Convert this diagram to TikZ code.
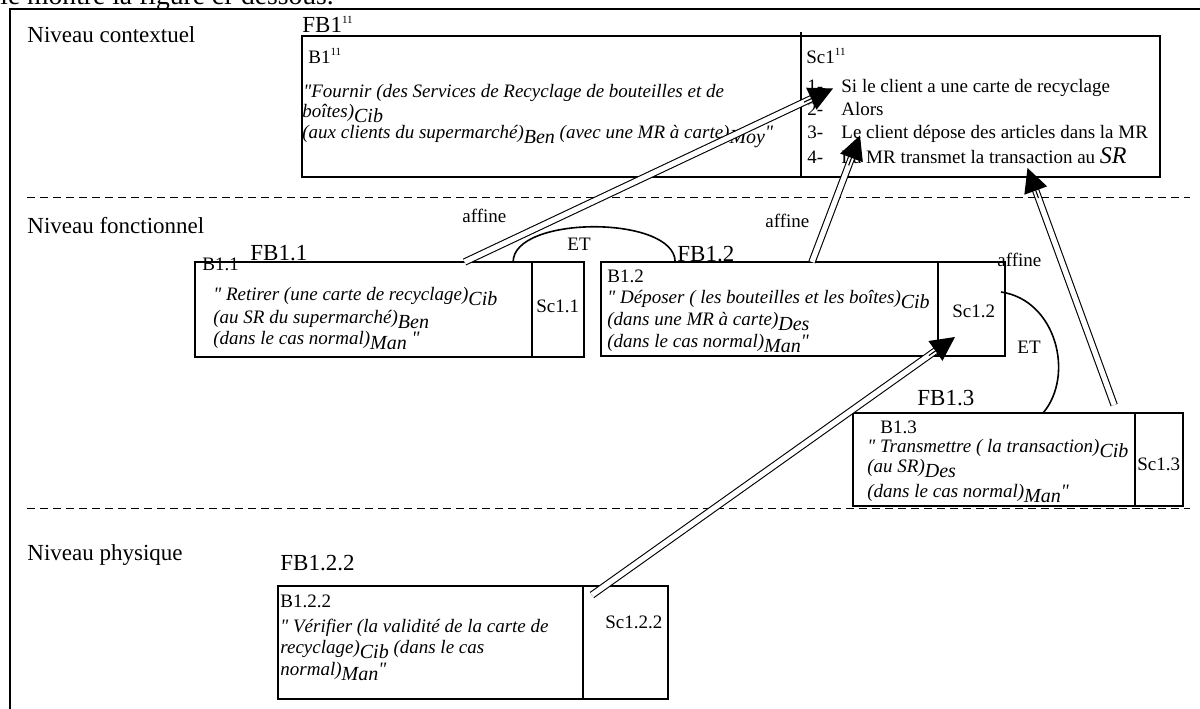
\documentclass[tikz,border=0pt]{standalone}
\usepackage{fontspec}
\setmainfont{Liberation Serif}[Ligatures=TeXOff]
\usetikzlibrary{calc,positioning,arrows.meta}

\newcommand{\ix}[1]{\raisebox{-2.6pt}{\fontsize{10}{12}\selectfont\itshape #1}}
\newcommand{\onze}[1][4pt]{\raisebox{#1}{\fontsize{5.5}{6}\selectfont 11}}
\newcommand{\dq}{\symbol{34}}

\begin{document}
\begin{tikzpicture}[x=.5pt, y=-.5pt]
	\tikzstyle{level}=[anchor=base west, inner sep=0pt, font=\fontsize{11.5}{13}\selectfont]
	\tikzstyle{txt}=[anchor=base west, inner sep=0pt, font=\fontsize{9.5}{11}\selectfont]
	\tikzstyle{desc}=[txt, font=\fontsize{9.5}{11}\selectfont\itshape]
	\tikzstyle{part}=[draw, line width=1pt, outer sep=0pt, inner sep=0pt, anchor=north west]
	\tikzstyle{sep}=[dash pattern=on 4pt off 2.5pt, line width=.5pt]
	\tikzstyle{affine}=[double, double distance=2.6pt, line width=.55pt, shorten >=10pt]
	\tikzstyle{head}=[-{Triangle[length=12pt, width=12pt]}, line width=.55pt]
	\tikzstyle{et}=[line width=.8pt]

	\useasboundingbox (0,0) rectangle (1200,708);

	\node[anchor=base west, inner sep=0pt, font=\fontsize{13.8}{15}\selectfont] (intro) at (0,4) {le montre la figure ci-dessous.};
	\draw[line width=1pt] (10,716) -- (10,9) -- (1210,9);

	% niveaux
	\node[level] (ctx) at (27,42) {Niveau contextuel};
	\node[level] (fct) at (27,233) {Niveau fonctionnel};
	\node[level] (phy) at (27,560) {Niveau physique};
	\draw[sep] (27,197) -- (1190,197);
	\draw[sep] (27,508) -- (1190,508);

	% FB1^11
	\node[part, minimum width=249.5pt, minimum height=70.5pt] (b11) at (302,36) {};
	\node[part, minimum width=179.5pt, minimum height=70.5pt] (sc11) at (b11.north east) {};
	\draw[line width=1pt] (sc11.north west) -- +(0,-4);
	\node[level] (fb11) at (302,32) {FB1\onze[4.4pt]};
	\node[txt] (lb11) at (308,63) {B1\onze[3.7pt]};
	\node[desc] (d11a) at (303,97) {\dq Fournir (des Services de Recyclage de bouteilles et de};
	\node[desc] (d11b) at (302,117) {boîtes)\ix{Cib}};
	\node[desc] (d11c) at (302,138) {(aux clients du supermarché)\ix{Ben} (avec une MR à carte)\ix{Moy}\dq};
	\node[txt] (lsc11) at (806,63) {Sc1\onze[3.7pt]};
	\node[txt] (n1) at (807,92) {1-};
	\node[txt] (i1) at (841,92) {Si le client a une carte de recyclage};
	\node[txt] (n2) at (807,115) {2-};
	\node[txt] (i2) at (841,115) {Alors};
	\node[txt] (n3) at (807,138) {3-};
	\node[txt] (i3) at (841,138) {Le client dépose des articles dans la MR};
	\node[txt] (n4) at (807,163) {4-};
	\node[txt] (i4) at (841,163) {La MR transmet la transaction au {\fontsize{12}{12}\selectfont\itshape SR}};

	% FB1.1
	\node[part, minimum width=168.5pt, minimum height=47.5pt] (b1-1) at (195,262) {};
	\node[part, minimum width=26pt, minimum height=47.5pt] (sc1-1) at (b1-1.north east) {};
	\node[level] (fb1-1) at (250,260) {FB1.1};
	\node[txt] (lb1-1) at (202,270) {B1.1};
	\node[desc] (d1-1a) at (213,300) {\dq\ Retirer (une carte de recyclage)\ix{Cib}};
	\node[desc] (d1-1b) at (213,323) {(au SR du supermarché)\ix{Ben}};
	\node[desc] (d1-1c) at (213,344) {(dans le cas normal)\ix{Man} \dq};
	\node[txt] (lsc1-1) at (536,312) {Sc1.1};

	% FB1.2
	\node[part, minimum width=168.5pt, minimum height=47pt] (b1-2) at (601,262) {};
	\node[part, minimum width=33.5pt, minimum height=47pt] (sc1-2) at (b1-2.north east) {};
	\node[level] (fb1-2) at (677,261) {FB1.2};
	\node[txt] (lb1-2) at (607,282) {B1.2};
	\node[desc] (d1-2a) at (607,303) {\dq\ Déposer ( les bouteilles et les boîtes)\ix{Cib}};
	\node[desc] (d1-2b) at (607,325) {(dans une MR à carte)\ix{Des}};
	\node[desc] (d1-2c) at (607,347) {(dans le cas normal)\ix{Man}\dq};
	\node[txt] (lsc1-2) at (952,317) {Sc1.2};

	% FB1.3
	\node[part, minimum width=141pt, minimum height=46.5pt] (b1-3) at (853,413) {};
	\node[part, minimum width=24pt, minimum height=46.5pt] (sc1-3) at (b1-3.north east) {};
	\node[level] (fb1-3) at (917,405) {FB1.3};
	\node[txt] (lb1-3) at (880,433) {B1.3};
	\node[desc] (d1-3a) at (867,452) {\dq\ Transmettre ( la transaction)\ix{Cib}};
	\node[desc] (d1-3b) at (867,472) {(au SR)\ix{Des}};
	\node[desc] (d1-3c) at (867,497) {(dans le cas normal)\ix{Man}\dq};
	\node[txt] (lsc1-3) at (1137,470) {Sc1.3};

	% FB1.2.2
	\node[part, minimum width=152.5pt, minimum height=56.5pt] (b1-2-2) at (278,586) {};
	\node[part, minimum width=42.5pt, minimum height=56.5pt] (sc1-2-2) at (b1-2-2.north east) {};
	\node[level] (fb1-2-2) at (280,570) {FB1.2.2};
	\node[txt] (lb1-2-2) at (280,607) {B1.2.2};
	\node[desc] (d1-2-2a) at (280,632) {\dq\ Vérifier (la validité de la carte de};
	\node[desc] (d1-2-2b) at (280,653) {recyclage)\ix{Cib} (dans le cas};
	\node[desc] (d1-2-2c) at (280,675) {normal)\ix{Man}\dq};
	\node[txt] (lsc1-2-2) at (605,628) {Sc1.2.2};

	% liens affine
	\coordinate (s1) at ($(b1-1.north west)!.8!(b1-1.north east)$);
	\coordinate (h1) at ($(i1.west)+(-8,1)$);
	\coordinate (s2) at ($(b1-2.north west)!.626!(b1-2.north east)$);
	\coordinate (h2) at ($(i3.west)+(19,2)$);
	\coordinate (s3) at ($(b1-3.north west)!.926!(b1-3.north east)+(0,-8)$);
	\coordinate (h3) at ($(sc11.south)+(47,-9)$);
	\coordinate (s4) at ($(sc1-2-2.north west)+(9,9)$);
	\coordinate (h4) at ($(sc1-2.south west)+(17,-19)$);

	\draw[affine] (s1) -- (h1);
	\draw[head] ($(h1)!16pt!(s1)$) -- (h1);
	\draw[affine] (s2) -- (h2);
	\draw[head] ($(h2)!16pt!(s2)$) -- (h2);
	\draw[affine] (s3) -- (h3);
	\draw[head] ($(h3)!16pt!(s3)$) -- (h3);
	\draw[affine] (s4) -- (h4);
	\draw[head] ($(h4)!16pt!(s4)$) -- (h4);

	\node[txt] (af1) at (462,222) {affine};
	\node[txt] (af2) at (765,227) {affine};
	\node[txt] (af3) at (997,266) {affine};

	% liens ET
	\coordinate (e1a) at ($(b1-1.north west)!.944!(b1-1.north east)$);
	\coordinate (e1b) at ($(b1-2.north west)!.22!(b1-2.north east)$);
	\coordinate (e2a) at ($(sc1-2.north east)+(-4,30)$);
	\coordinate (e2b) at ($(b1-3.north west)!.674!(b1-3.north east)$);
	\draw[et] (e1a) .. controls +(0,-47) and +(0,-47) .. (e1b);
	\draw[et] (e2a) .. controls +(55,8) and +(32,-38) .. (e2b);
	\node[txt] (et1) at (567,250) {ET};
	\node[txt] (et2) at (1017,353) {ET};
\end{tikzpicture}
\end{document}
